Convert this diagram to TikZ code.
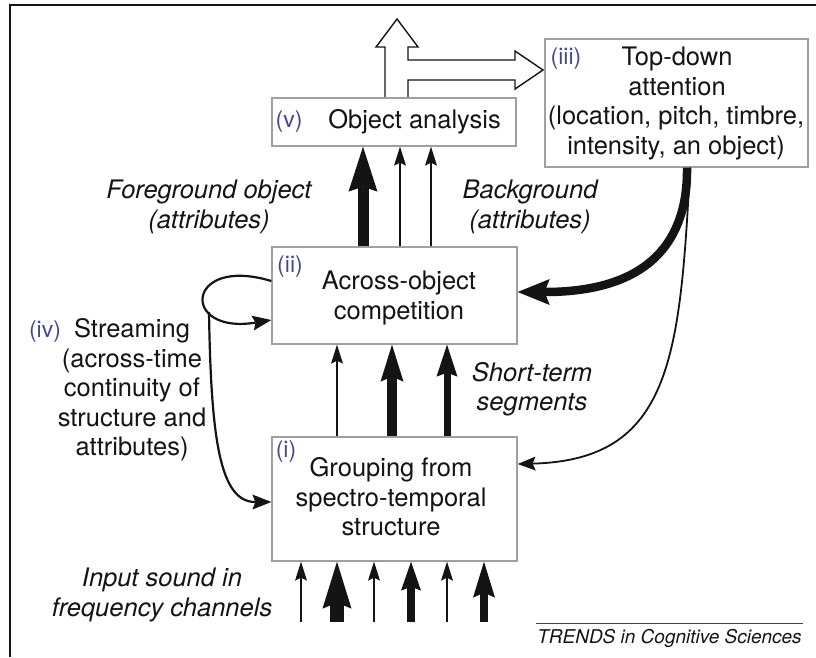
\documentclass[tikz,border=0pt]{standalone}
\usepackage{fontspec}
\setmainfont{TeX Gyre Heros}
\usetikzlibrary{arrows.meta,calc}
\definecolor{lblue}{RGB}{70,70,150}
\definecolor{boxgray}{RGB}{160,160,160}
\definecolor{ink}{RGB}{20,20,20}
\begin{document}
\begin{tikzpicture}[x=1pt,y=-1pt,
  box/.style={draw=boxgray, line width=1.3pt, fill=white, inner sep=0pt},
  main/.style={font=\fontsize{25.5}{29.5}\selectfont, text=ink, align=center, inner sep=0pt},
  ital/.style={font=\fontsize{25.5}{29.5}\selectfont\itshape, text=ink, align=center, inner sep=0pt},
  num/.style={font=\fontsize{23}{27}\selectfont, text=lblue, inner sep=0pt},
  arr/.style n args={4}{draw=ink, line width=#1, -{Stealth[length=#2, width=#3, inset=#4, line width=0pt]}},
  thinarr/.style={arr={1.5pt}{19pt}{12pt}{3pt}}
]
\useasboundingbox (0,0) rectangle (816,657);
% frame
\draw[line width=2.2pt, ink] (10,657) -- (10,5) -- (816,5);

% hollow output arrow
\draw[line width=1.4pt, fill=white, line join=miter, draw=ink]
  (385,98) -- (385,47) -- (376,47) -- (397,19) -- (418,47) -- (408,47) -- (408,60)
  -- (515,60) -- (515,51) -- (543,70) -- (515,89) -- (515,80) -- (408,80) -- (408,98);

% boxes
\node[box, minimum width=244pt, minimum height=48pt] (v) at (394,122) {};
\node[box, minimum width=263pt, minimum height=128pt] (iii) at (676.5,103) {};
\node[box, minimum width=245pt, minimum height=97pt] (ii) at (394.5,295.5) {};
\node[box, minimum width=245pt, minimum height=124pt] (i) at (394.5,499) {};

% box texts
\node[num] (vnum) at (289,122) {(v)};
\node[main] (vtxt) at (414.5,122) {Object analysis};
\node[num] (iiinum) at (566,59) {(iii)};
\node[main] (iiitxt) at (677,71.5) {Top-down\\attention};
\node[main] (iiisub) at (676,133) {(location, pitch, timbre,\\intensity, an object)};
\node[num] (iinum) at (290,267) {(ii)};
\node[main] (iitxt) at (399,298) {Across-object\\competition};
\node[num] (inum) at (286,452) {(i)};
\node[main] (itxt) at (391,497) {Grouping from\\spectro-temporal\\structure};
\node[num] (ivnum) at (45,332) {(iv)};
\node[main] (ivtxt) at (132,390) {Streaming\\(across-time\\continuity of\\structure and\\attributes)};

% italic labels
\node[ital] (fg) at (209,207) {Foreground object\\(attributes)};
\node[ital] (bg) at (530,207) {Background\\(attributes)};
\node[ital] (st) at (532,389) {Short-term\\segments};
\node[ital] (inp) at (162,595) {Input sound in\\frequency channels};

% (ii) -> (v)
\draw[arr={11pt}{45pt}{29pt}{5pt}] (ii.north -| 363,0) -- (v.south -| 363,0);
\draw[thinarr] (ii.north -| 400,0) -- (v.south -| 400,0);
\draw[thinarr] (ii.north -| 431,0) -- (v.south -| 431,0);

% (i) -> (ii)
\draw[thinarr] (i.north -| 337,0) -- (ii.south -| 337,0);
\draw[arr={10pt}{37pt}{23pt}{5pt}] (i.north -| 392,0) -- (ii.south -| 392,0);
\draw[arr={7pt}{32pt}{21pt}{4pt}] (i.north -| 447,0) -- (ii.south -| 447,0);

% inputs
\coordinate (in1) at (301,622);
\coordinate (in2) at (337,622);
\coordinate (in3) at (374,622);
\coordinate (in4) at (411,622);
\coordinate (in5) at (447,622);
\coordinate (in6) at (484,622);
\draw[thinarr] (in1) -- (i.south -| in1);
\draw[arr={14pt}{47pt}{29pt}{6pt}] (in2) -- (i.south -| in2);
\draw[thinarr] (in3) -- (i.south -| in3);
\draw[arr={8pt}{29pt}{20pt}{4pt}] (in4) -- (i.south -| in4);
\draw[thinarr] (in5) -- (i.south -| in5);
\draw[arr={8pt}{36pt}{22pt}{5pt}] (in6) -- (i.south -| in6);

% top-down attention feedback
\draw[arr={1.8pt}{18pt}{14pt}{3pt}] (iii.south -| 690,0) .. controls (680,360) and (670,460) .. (i.east |- 0,464);
\draw[arr={8.5pt}{32pt}{26pt}{5pt}] (iii.south -| 687,0) .. controls (688,240) and (650,292) .. (ii.east |- 0,292);

% streaming loop
\draw[arr={2.2pt}{19pt}{15pt}{3pt}] (ii.west |- 0,281) .. controls (185,255) and (180,335) .. (ii.west |- 0,320);
\coordinate (lp) at (209,312);
\draw[arr={2.2pt}{19pt}{15pt}{3pt}] (lp) .. controls (211,440) and (220,502) .. (i.west |- 0,502);

% source
\draw[line width=1pt, draw=ink!80] (536,623) -- (803,623);
\node[font=\fontsize{19}{22}\selectfont\itshape, text=ink, inner sep=0pt] (trends) at (669.5,638) {TRENDS in Cognitive Sciences};
\end{tikzpicture}
\end{document}
